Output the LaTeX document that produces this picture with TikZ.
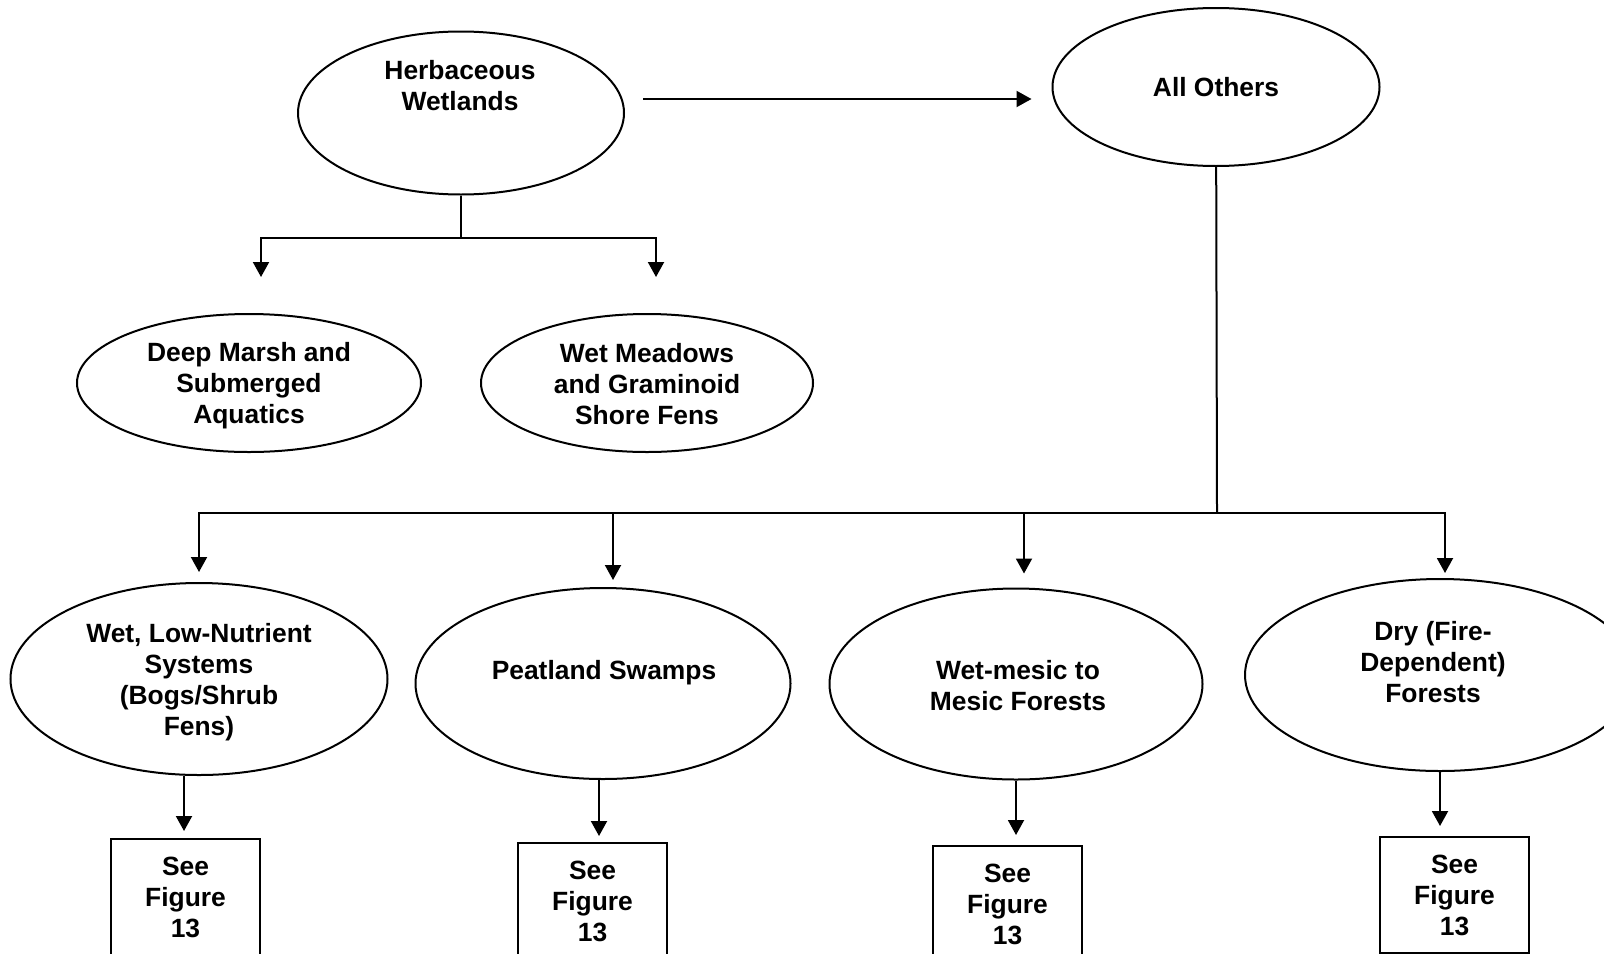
\documentclass[tikz,border=0pt]{standalone}
\usepackage{fontspec}
\setmainfont{Liberation Sans}
\usetikzlibrary{arrows.meta, shapes.geometric, positioning}
\tikzset{
  every picture/.style={line width=1pt, x=0.5pt, y=-0.5pt},
  oval/.style 2 args={draw, ellipse, inner sep=0pt, minimum width=#1, minimum height=#2},
  txt/.style={align=center, font=\fontsize{13.2}{15.5}\selectfont\bfseries},
  figbox/.style={draw, txt, minimum width=74.5pt, minimum height=58pt, inner sep=0pt},
  arrow/.style={-{Triangle[length=7.5pt, width=8pt]}},
}

\begin{document}
\begin{tikzpicture}
  \useasboundingbox (0,0) rectangle (1604,953);
  % top row
  \node[oval={163pt}{81.5pt}] (herb) at (461,113) {};
  \node[txt] (herbtxt) at (460,86) {Herbaceous\\Wetlands};
  \node[oval={163.5pt}{79pt}] (others) at (1216,87) {};
  \node[txt] (otherstxt) at (1216,87) {All Others};
  \draw[arrow] ([xshift=9pt,yshift=7pt]herb.east) -- ([xshift=-10pt,yshift=-6pt]others.west);
  % herbaceous branch
  \node[oval={172pt}{69pt}] (marsh) at (249,383) {};
  \node[txt] (marshtxt) at (249,386) {Deep Marsh and\\Submerged\\Aquatics};
  \node[oval={166pt}{69pt}] (meadow) at (647,383) {};
  \node[txt] (meadowtxt) at (647,384) {Wet Meadows\\and Graminoid\\Shore Fens};
  \coordinate (hj) at (461,238);
  \draw (herb) -- (hj);
  \draw[arrow, shorten >=18pt] (hj) -| ([xshift=6pt]marsh.north);
  \draw[arrow, shorten >=18pt] (hj) -| ([xshift=4.5pt]meadow.north);
  % all others branch
  \node[oval={188.5pt}{96pt}] (wet) at (199,679) {};
  \node[txt] (wettxt) at (199,682) {Wet, Low-Nutrient\\Systems\\(Bogs/Shrub\\Fens)};
  \node[oval={187.5pt}{95.5pt}] (peat) at (603,683.5) {};
  \node[txt] (peattxt) at (604,673) {Peatland Swamps};
  \node[oval={186.5pt}{95.5pt}] (mesic) at (1016,684) {};
  \node[txt] (mesictxt) at (1018,686) {Wet-mesic to\\Mesic Forests};
  \node[oval={195pt}{96pt}] (dry) at (1440,675) {};
  \node[txt] (drytxt) at (1433,662) {Dry (Fire-\\Dependent)\\Forests};
  \coordinate (oj) at (1217,513);
  \draw (others) -- (oj);
  \draw[arrow, shorten >=5pt] (oj) -| (wet.north);
  \draw[arrow, shorten >=3.5pt] (oj) -| ([xshift=5pt]peat.north);
  \draw[arrow, shorten >=7pt] (oj) -| ([xshift=4pt]mesic.north);
  \draw[arrow, shorten >=2.5pt] (oj) -| ([xshift=2.5pt]dry.north);
  % see figure boxes
  \node[figbox] (fig1) at (185.5,897) {See\\Figure\\13};
  \node[figbox] (fig2) at (592.5,901) {See\\Figure\\13};
  \node[figbox] (fig3) at (1007.5,904) {See\\Figure\\13};
  \node[figbox] (fig4) at (1454.5,895) {See\\Figure\\13};
  \draw[arrow, shorten >=3.5pt] ([xshift=-7.5pt]wet.south) -- ([xshift=-7.5pt]wet.south |- fig1.north);
  \draw[arrow, shorten >=3pt] ([xshift=-2pt]peat.south) -- ([xshift=-2pt]peat.south |- fig2.north);
  \draw[arrow, shorten >=5pt] (mesic.south) -- (mesic.south |- fig3.north);
  \draw[arrow, shorten >=5pt] (dry.south) -- (dry.south |- fig4.north);
\end{tikzpicture}
\end{document}
